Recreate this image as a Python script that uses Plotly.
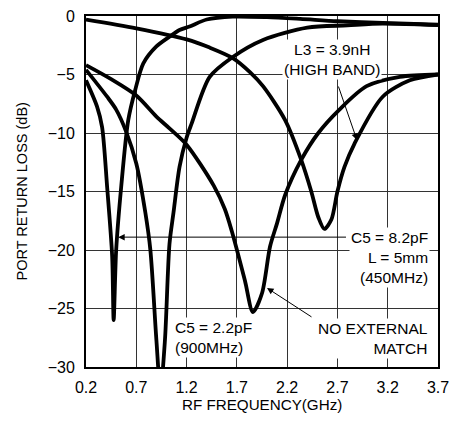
import plotly.graph_objects as go

# curve data (frequency in GHz, return loss in dB)
f_no_match = [0.2, 0.45, 0.7, 0.9, 1.03, 1.2, 1.47, 1.58, 1.65, 1.78, 1.86, 1.95, 2.03, 2.1,
              2.18, 2.34, 2.51, 2.72, 2.99, 3.32, 3.7]
rl_no_match = [-4.2, -5.4, -6.8, -8.6, -9.6, -11.0, -14.5, -16.5, -18.4, -22.6, -25.3, -23.7,
               -19.7, -17.7, -15.3, -12.3, -10.0, -8.0, -6.0, -5.2, -5.0]

f_high_band = [0.2, 0.7, 1.2, 1.43, 1.66, 1.83, 1.96, 2.18, 2.34, 2.44, 2.51, 2.57, 2.64, 2.7,
               2.77, 2.87, 3.15, 3.42, 3.7]
rl_high_band = [-0.3, -1.05, -2.0, -2.7, -3.6, -4.8, -6.0, -8.9, -12.3, -15.0, -17.2, -18.2,
                -17.4, -15.0, -12.9, -10.9, -6.9, -5.5, -5.0]

f_c82 = [0.2, 0.31, 0.36, 0.41, 0.46, 0.475, 0.5, 0.55, 0.62, 0.69, 0.77, 0.9, 1.03, 1.13,
         1.23, 1.4, 1.66, 2.0, 2.33, 2.7, 3.15, 3.7]
rl_c82 = [-5.5, -7.75, -9.5, -14.6, -20.5, -26.0, -20.0, -14.6, -8.9, -6.3, -4.05, -2.6, -1.77,
          -1.2, -0.9, -0.3, -0.05, -0.1, -0.25, -0.45, -0.6, -0.75]

f_c22 = [0.2, 0.41, 0.5, 0.6, 0.7, 0.79, 0.84, 0.9, 0.94, 0.985, 1.03, 1.07, 1.13, 1.2, 1.25,
         1.43, 1.66, 1.96, 2.4, 2.8, 3.15, 3.7]
rl_c22 = [-4.6, -6.9, -8.0, -9.9, -12.6, -16.8, -20.0, -27.7, -32.0, -27.7, -19.5, -16.8,
          -12.9, -10.4, -9.2, -5.2, -3.5, -2.05, -1.0, -0.8, -0.65, -0.78]

x_ticks = [0.2, 0.7, 1.2, 1.7, 2.2, 2.7, 3.2, 3.7]
y_ticks = [0, -5, -10, -15, -20, -25, -30]
y_tick_text = ["0", "\u22125", "\u221210", "\u221215", "\u221220", "\u221225", "\u221230"]

FONT = "Liberation Sans, Arial, Helvetica, sans-serif"

fig = go.Figure()
for fx, ry in [(f_no_match, rl_no_match), (f_high_band, rl_high_band),
               (f_c82, rl_c82), (f_c22, rl_c22)]:
    fig.add_trace(go.Scatter(x=fx, y=ry, mode="lines",
                             line=dict(color="black", width=3.8, shape="spline", smoothing=0.8),
                             showlegend=False, hoverinfo="skip"))

note = dict(font=dict(family=FONT, size=15.5, color="black"), bgcolor="white",
            showarrow=False, borderpad=1)
fig.add_annotation(x=2.645, y=-3.76, text="L3 = 3.9nH<br>(HIGH BAND)", align="center",
                   xanchor="center", yanchor="middle", **note)
fig.add_annotation(x=3.62, y=-20.6, text="C5 = 8.2pF<br>L = 5mm<br>(450MHz)", align="right",
                   xanchor="right", yanchor="middle", **note)
fig.add_annotation(x=1.065, y=-27.5, text="C5 = 2.2pF<br>(900MHz)", align="left",
                   xanchor="left", yanchor="middle", **note)
fig.add_annotation(x=3.62, y=-27.6, text="NO EXTERNAL<br>MATCH", align="right",
                   xanchor="right", yanchor="middle", **note)

arrow = dict(showarrow=True, arrowhead=2, arrowsize=1.3, arrowwidth=1, arrowcolor="black",
             axref="x", ayref="y", text="", standoff=0)
fig.add_annotation(x=2.894, y=-10.6, ax=2.705, ay=-5.9, **arrow)
fig.add_annotation(x=0.52, y=-18.9, ax=2.80, ay=-18.9, **arrow)
fig.add_annotation(x=2.0, y=-23.25, ax=2.457, ay=-25.8, **arrow)

fig.add_annotation(x=0.5, y=-0.108, xref="paper", yref="paper", text="RF FREQUENCY(GHz)",
                   xanchor="center", yanchor="middle", showarrow=False,
                   font=dict(family=FONT, size=15.2, color="black"))
fig.add_annotation(x=-0.182, y=0.5, xref="paper", yref="paper", text="PORT RETURN LOSS (dB)",
                   xanchor="center", yanchor="middle", textangle=-90, showarrow=False,
                   font=dict(family=FONT, size=14.5, color="black"))

axis_style = dict(showgrid=True, gridcolor="#333", gridwidth=1, zeroline=False,
                  showline=True, mirror=True, linecolor="black", linewidth=2,
                  ticks="", automargin=False, ticklabeloverflow="allow",
                  tickfont=dict(family=FONT, size=16, color="black"))
fig.update_xaxes(range=[0.2, 3.7], tickvals=x_ticks, ticktext=[str(v) for v in x_ticks],
                 ticklabelstandoff=5, **axis_style)
fig.update_yaxes(range=[-30, 0], tickvals=y_ticks, ticktext=y_tick_text,
                 ticklabelstandoff=6, **axis_style)
fig.update_layout(template="none", width=450, height=423,
                  margin=dict(l=86, r=12, t=16, b=56),
                  plot_bgcolor="white", paper_bgcolor="white")

# drop the browser's default 8px body margin so the figure fills the window
fig.write_html("out.html", config={"displayModeBar": False},
               post_script="document.body.style.margin='0';")
